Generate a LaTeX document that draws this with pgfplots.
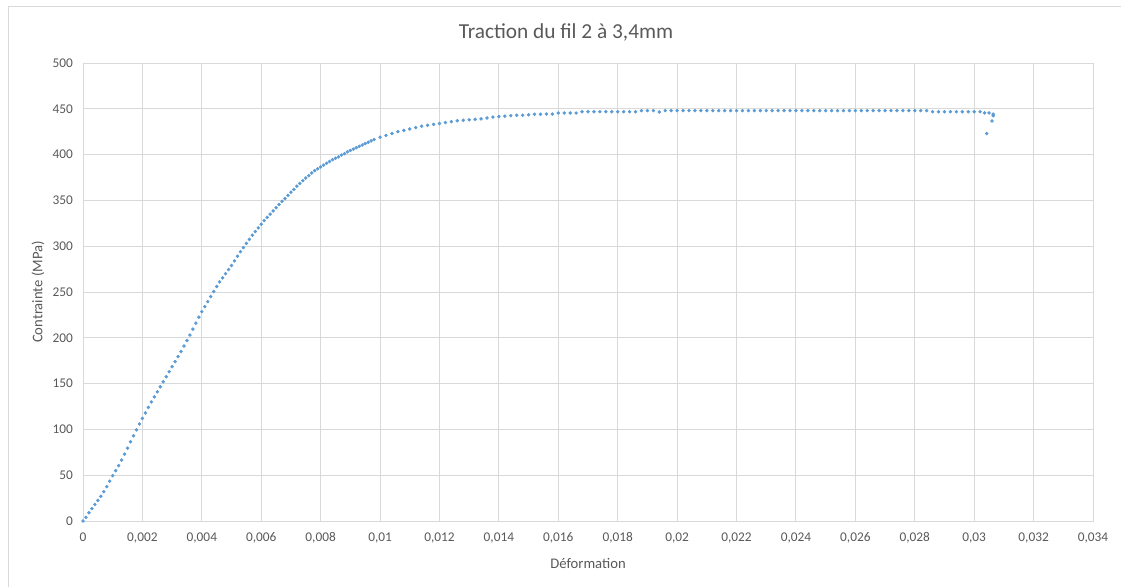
\documentclass[border=0pt]{standalone}
\usepackage{pgfplots}
\pgfplotsset{compat=1.18}
\usepackage{fontspec}
\setmainfont{Carlito}
\definecolor{ser}{HTML}{5B9BD5}
\definecolor{tick}{HTML}{595959}
\definecolor{grd}{HTML}{D9D9D9}
\begin{document}
\begin{tikzpicture}
\useasboundingbox (0pt,0pt) rectangle (840.75pt,440.25pt);
\draw[grd, line width=0.75pt] (6pt,0pt) -- (6pt,435pt) -- (840.75pt,435pt);
\node[font=\fontsize{16}{18}\selectfont, text=tick] at (424.5pt,416.25pt) {Traction du fil 2 à 3,4mm};
\node[font=\fontsize{11}{13}\selectfont, text=tick] at (441pt,18pt) {Déformation};
\node[font=\fontsize{11}{13}\selectfont, text=tick, rotate=90] at (28.5pt,221.25pt) {Contrainte (MPa)};
\begin{axis}[
  at={(62.25pt,49.5pt)}, anchor=south west,
  scale only axis, width=757.5pt, height=343.5pt,
  xmin=0, xmax=0.034, ymin=0, ymax=500,
  xtick={0,0.002,0.004,0.006,0.008,0.01,0.012,0.014,0.016,0.018,0.02,0.022,0.024,0.026,0.028,0.03,0.032,0.034},
  ytick={0,50,100,150,200,250,300,350,400,450,500},
  scaled x ticks=false,
  xticklabel style={/pgf/number format/fixed, /pgf/number format/precision=3, /pgf/number format/use comma, /pgf/number format/assume math mode=true, font=\fontsize{10}{12}\selectfont, text=tick, yshift=-5pt},
  yticklabel style={/pgf/number format/assume math mode=true, font=\fontsize{10}{12}\selectfont, text=tick, xshift=-4pt},
  major tick length=0pt,
  grid=major, grid style={grd, line width=0.75pt},
  axis line style={grd, line width=0.75pt},
  tick style={draw=none},
]
\addplot[only marks, mark=*, mark size=1.1pt, color=ser, mark options={draw=ser, fill=ser}] coordinates {
(0,0) (0.0001,4) (0.0002,9) (0.0003,13.5) (0.0004,18) (0.0005,22.5) (0.0006,27) (0.0007,32) (0.0008,37.5) (0.0009,43.5)
(0.0010,49.5) (0.0011,55) (0.0012,60.5) (0.0013,66.5) (0.0014,73) (0.0015,79.5) (0.0016,86.5) (0.0017,93) (0.0018,99.5) (0.0019,106)
(0.0020,112) (0.0021,118) (0.0022,124) (0.0023,130) (0.0024,135.5) (0.0025,141) (0.0026,146.5) (0.0027,152) (0.0028,157.5) (0.0029,163)
(0.0030,168.5) (0.0031,174) (0.0032,179.5) (0.0033,185) (0.0034,191) (0.0035,197) (0.0036,203) (0.0037,209.5) (0.0038,216) (0.0039,222.5)
(0.0040,228.5) (0.0041,234) (0.0042,239.5) (0.0043,245) (0.0044,250.5) (0.0045,256) (0.0046,261) (0.0047,265.5) (0.0048,270) (0.0049,274.5)
(0.0050,279) (0.0051,284) (0.0052,289) (0.0053,294) (0.0054,298.5) (0.0055,303) (0.0056,307.5) (0.0057,312) (0.0058,316) (0.0059,320)
(0.0060,324) (0.0061,328) (0.0062,331.5) (0.0063,335) (0.0064,338.5) (0.0065,342) (0.0066,345.5) (0.0067,349) (0.0068,352) (0.0069,355.5)
(0.0070,359) (0.0071,362) (0.0072,365.5) (0.0073,368.5) (0.0074,371.5) (0.0075,374.5) (0.0076,377) (0.0077,380) (0.0078,382.5) (0.0079,384.5)
(0.0080,386.5) (0.0081,388.5) (0.0082,390.5) (0.0083,392.5) (0.0084,394.5) (0.0085,396) (0.0086,397.5) (0.0087,399.5) (0.0088,401) (0.0089,403)
(0.0090,404.5) (0.0091,406) (0.0092,407.5) (0.0093,409) (0.0094,410.5) (0.0095,412) (0.0096,413.5) (0.0097,415) (0.0098,416.5)
(0.0100,419) (0.0102,421) (0.0104,423) (0.0106,425) (0.0108,426.5) (0.0110,428) (0.0112,429.5) (0.0114,431) (0.0116,432) (0.0118,433)
(0.0120,434) (0.0122,435) (0.0124,436) (0.0126,437) (0.0128,437.5) (0.0130,438) (0.0132,438.5) (0.0134,439) (0.0136,440) (0.0138,441)
(0.0140,441.5) (0.0142,442) (0.0144,442.5) (0.0146,443) (0.0148,443) (0.0150,443.5) (0.0152,444) (0.0154,444) (0.0156,444.3) (0.0158,444.3)
(0.0160,445.4) (0.0162,445.4) (0.0164,445.4) (0.0166,445.4) (0.0168,446.8) (0.0170,446.8) (0.0172,446.8) (0.0174,446.8) (0.0176,446.8) (0.0178,446.8)
(0.0180,446.8) (0.0182,446.8) (0.0184,446.8) (0.0186,446.8) (0.0188,448) (0.0190,448) (0.0192,448) (0.0194,446.5) (0.0196,448) (0.0198,448)
(0.0200,448) (0.0202,448) (0.0204,448) (0.0206,448) (0.0208,448) (0.0210,448) (0.0212,448) (0.0214,448) (0.0216,448) (0.0218,448)
(0.0220,448) (0.0222,448) (0.0224,448) (0.0226,448) (0.0228,448) (0.0230,448) (0.0232,448) (0.0234,448) (0.0236,448) (0.0238,448)
(0.0240,448) (0.0242,448) (0.0244,448) (0.0246,448) (0.0248,448) (0.0250,448) (0.0252,448) (0.0254,448) (0.0256,448) (0.0258,448)
(0.0260,448) (0.0262,448) (0.0264,448) (0.0266,448) (0.0268,448) (0.0270,448) (0.0272,448) (0.0274,448) (0.0276,448) (0.0278,448)
(0.0280,448) (0.0282,448) (0.0284,448) (0.0286,446.8) (0.0288,446.8) (0.0290,446.8) (0.0292,446.8) (0.0294,446.8) (0.0296,446.8) (0.0298,446.8)
(0.0300,446.8) (0.0302,446.8) (0.03035,445.5) (0.0305,445.5) (0.03064,444.2) (0.03064,442.4) (0.0306,436.7) (0.03042,423)
};
\end{axis}
\end{tikzpicture}
\end{document}
